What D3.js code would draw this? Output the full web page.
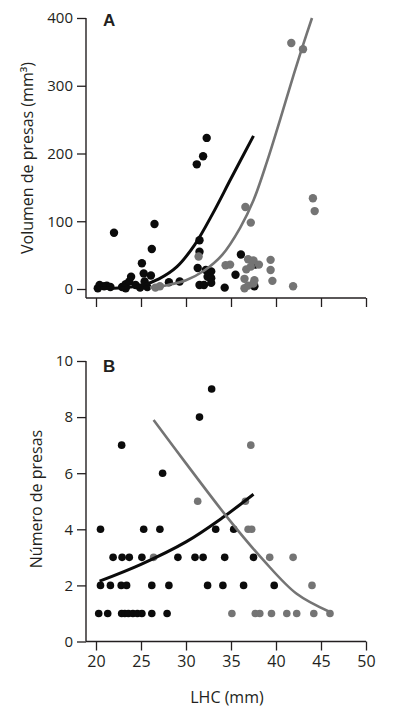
<!DOCTYPE html>
<html>
<head>
<meta charset="utf-8">
<script src="https://cdn.jsdelivr.net/npm/d3@7"></script>
<style>
  body { margin: 0; background: #fff; }
  text { font-family: "Open Sans", sans-serif; fill: #231f20; }
</style>
</head>
<body>
<div id="chart"></div>
<script>
// tick values
const lhcTicks = [20, 25, 30, 35, 40, 45, 50];
const volTicks = [0, 100, 200, 300, 400];
const numTicks = [0, 2, 4, 6, 8, 10];

// panel A : [LHC, volumen]
const volBlack = [[20.2,1],[20.4,6],[20.9,4],[21.2,5],[21.6,3],[22.0,83],[22.9,3],[23.3,1],[23.3,7],[23.7,11],
  [23.9,18],[24.4,6],[24.9,2],[25.1,38],[25.3,23],[25.4,11],[25.7,3],[26.1,20],[26.2,59],[26.5,96],
  [28.1,10],[29.3,11],[31.2,184],[31.9,196],[32.3,223],[31.5,72],[31.5,55],[31.3,31],[32.2,28],[32.8,26],
  [32.4,18],[32.8,16],[31.5,6],[32.0,6],[32.8,9],[34.3,2],[36.1,51],[35.5,21],[37.7,36],[37.6,4]];
const volGray = [[26.6,2],[27.1,4],[31.4,48],[34.4,35],[34.9,36],[36.6,121],[37.2,98],[36.9,44],[37.5,42],
  [36.7,29],[37.2,33],[38.1,36],[39.4,43],[39.4,28],[39.6,12],[36.5,15],[36.5,1],[36.9,5],[37.5,8],[37.6,13],
  [41.9,4],[41.7,363],[43.0,354],[44.1,134],[44.3,115]];
const volBlackFit = [[20.5,1],[23,2],[25,5],[27,15],[29,33],[31,66],[33,112],[35,163],[37.5,226]];
const volGrayFit = [[26,2],[28,6],[30,13],[32,27],[34,50],[36,90],[37.5,131],[39,188],[40.5,252],[42,318],[43,360],[44,400]];

// panel B : [LHC, numero]
const numBlack = [[20.3,1],[21.3,1],[22.85,1],[23.2,1],[23.6,1],[24.1,1],[24.6,1],[25.1,1],[26.2,1],[27.9,1],
  [20.5,2],[21.6,2],[22.8,2],[23.4,2],[26.2,2],[28.1,2],[32.4,2],[34.1,2],[36.4,2],[39.8,2],
  [21.9,3],[22.9,3],[23.7,3],[25.1,3],[29.1,3],[31.0,3],[31.9,3],[34.3,3],[37.5,3],
  [20.5,4],[25.3,4],[27.1,4],[33.3,4],[35.3,4],
  [27.4,6],[22.85,7],[31.5,8],[32.85,9]];
const numGray = [[35.1,1],[37.7,1],[38.2,1],[39.5,1],[41.2,1],[42.3,1],[44.2,1],[46.0,1],
  [44.0,2],[26.4,3],[39.3,3],[41.9,3],[36.9,4],[37.3,4],[31.3,5],[36.6,5],[37.2,7]];
const numBlackFit = [[20.4,2.15],[25,2.75],[30,3.55],[34,4.4],[37.5,5.25]];
const numGrayFit = [[26.4,7.9],[30,6.35],[34.9,4.3],[38.6,2.9],[42.3,1.7],[46,1.05]];

const w = 394, h = 716;
const axisX = 86;
const black = "#0b0b0b", gray = "#747474", ink = "#231f20";

const svg = d3.select("#chart").append("svg")
  .attr("width", w).attr("height", h);

const x = d3.scaleLinear().domain([20, 50]).range([96, 366]);

function panel(cfg) {
  const y = d3.scaleLinear().domain(cfg.domain).range(cfg.range);
  const g = svg.append("g");

  // axis lines
  g.append("line").attr("x1", axisX).attr("x2", axisX)
    .attr("y1", cfg.range[1]).attr("y2", cfg.baseY)
    .attr("stroke", ink).attr("stroke-width", 1.4);
  g.append("line").attr("x1", axisX).attr("x2", x(50))
    .attr("y1", cfg.baseY).attr("y2", cfg.baseY)
    .attr("stroke", ink).attr("stroke-width", 1.4);

  const yAxis = g.append("g")
    .attr("transform", "translate(" + axisX + ",0)")
    .call(d3.axisLeft(y).tickValues(cfg.ticks).tickSize(9).tickPadding(4).tickFormat(d3.format("d")));
  yAxis.select(".domain").remove();
  yAxis.selectAll("line").attr("stroke", ink).attr("stroke-width", 1.3);
  yAxis.selectAll("text").style("font-size", "15px").attr("fill", ink);

  const xAxis = g.append("g")
    .attr("transform", "translate(0," + cfg.baseY + ")")
    .call(d3.axisBottom(x).tickValues(lhcTicks).tickSize(9).tickPadding(5)
      .tickFormat(cfg.xLabels ? d3.format("d") : ""));
  xAxis.select(".domain").remove();
  xAxis.selectAll("line").attr("stroke", ink).attr("stroke-width", 1.3);
  xAxis.selectAll("text").style("font-size", "16px").attr("fill", ink);

  // points
  g.append("g").selectAll("circle").data(cfg.black).enter().append("circle")
    .attr("cx", d => x(d[0])).attr("cy", d => y(d[1])).attr("r", cfg.r).attr("fill", black);
  g.append("g").selectAll("circle").data(cfg.gray).enter().append("circle")
    .attr("cx", d => x(d[0])).attr("cy", d => y(d[1])).attr("r", cfg.r).attr("fill", gray);

  // fitted curves
  const line = d3.line().x(d => x(d[0])).y(d => y(d[1])).curve(d3.curveCatmullRom.alpha(0.5));
  g.append("path").datum(cfg.blackFit).attr("d", line)
    .attr("fill", "none").attr("stroke", black).attr("stroke-width", 3);
  g.append("path").datum(cfg.grayFit).attr("d", line)
    .attr("fill", "none").attr("stroke", gray).attr("stroke-width", 2.6);

  // panel letter
  g.append("text").attr("x", 103).attr("y", cfg.letterY)
    .style("font-family", "'Liberation Sans', Arial, sans-serif")
    .style("font-weight", "bold").style("font-size", "17px")
    .attr("fill", ink).text(cfg.letter);

  // y title
  g.append("text")
    .attr("transform", "translate(" + cfg.titleX + "," + cfg.titleY + ") rotate(-90)")
    .attr("text-anchor", "middle")
    .style("font-size", "16px").attr("fill", ink)
    .text(cfg.title);
}

panel({
  domain: [0, 400], range: [289, 18], baseY: 298, ticks: volTicks, xLabels: false,
  black: volBlack, gray: volGray, blackFit: volBlackFit, grayFit: volGrayFit, r: 4.2,
  letter: "A", letterY: 26, title: "Volumen de presas (mm³)", titleX: 33, titleY: 158
});

panel({
  domain: [0, 10], range: [641.5, 361], baseY: 641.5, ticks: numTicks, xLabels: true,
  black: numBlack, gray: numGray, blackFit: numBlackFit, grayFit: numGrayFit, r: 3.8,
  letter: "B", letterY: 372, title: "Número de presas", titleX: 42, titleY: 499
});

svg.append("text")
  .attr("x", 227).attr("y", 703)
  .attr("text-anchor", "middle")
  .style("font-size", "16px").attr("fill", ink)
  .text("LHC (mm)");
</script>
</body>
</html>
